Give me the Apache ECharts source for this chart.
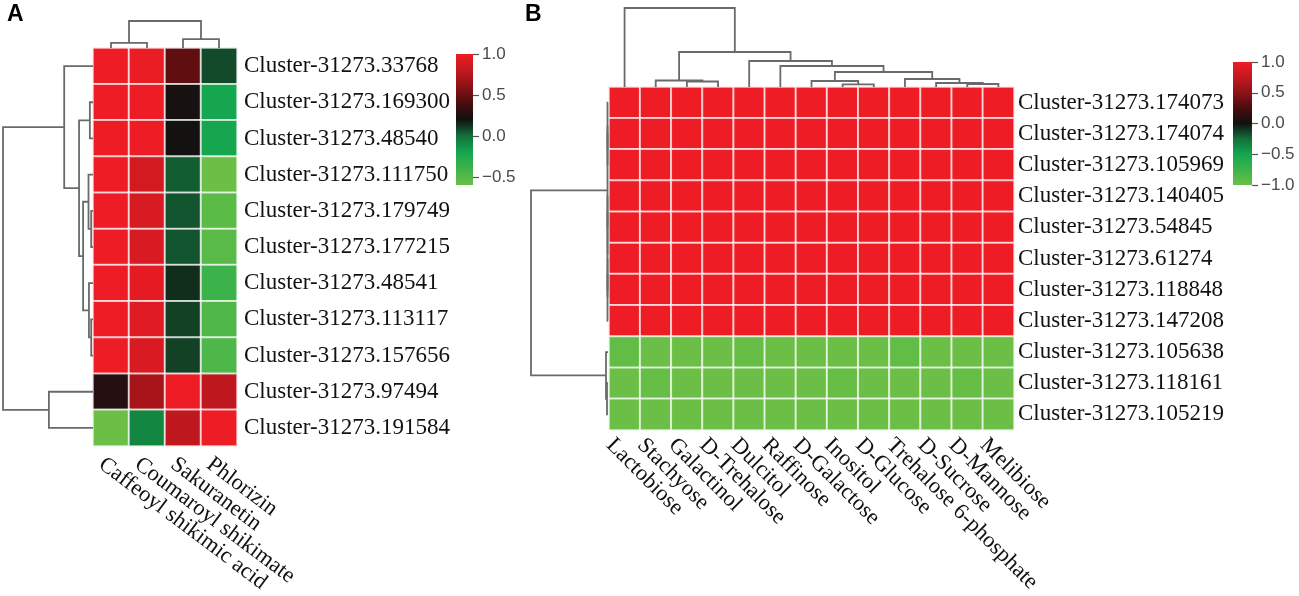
<!DOCTYPE html>
<html>
<head>
<meta charset="utf-8">
<style>
  html, body { margin: 0; padding: 0; background: #fff; }
  #main { width: 1299px; height: 596px; }
</style>
<script src="https://cdn.jsdelivr.net/npm/echarts@6/dist/echarts.min.js"></script>
</head>
<body>
<div id="main"></div>
<script>
// ---- panel A : phenylpropanoid metabolites ----
var rowsA = ["Cluster-31273.33768", "Cluster-31273.169300", "Cluster-31273.48540",
  "Cluster-31273.111750", "Cluster-31273.179749", "Cluster-31273.177215",
  "Cluster-31273.48541", "Cluster-31273.113117", "Cluster-31273.157656",
  "Cluster-31273.97494", "Cluster-31273.191584"];
var colsA = ["Caffeoyl shikimic acid", "Coumaroyl shikimate", "Sakuranetin", "Phlorizin"];
// one row per gene, columns in colsA order
var valuesA = [
  [1.00, 0.98, 0.47, 0.08],
  [1.00, 1.00, 0.22, -0.20],
  [1.00, 1.00, 0.21, -0.20],
  [1.00, 0.88, 0.04, -0.60],
  [1.00, 0.90, 0.06, -0.53],
  [1.00, 0.90, 0.06, -0.52],
  [1.00, 0.96, 0.14, -0.40],
  [1.00, 0.93, 0.10, -0.48],
  [1.00, 0.90, 0.10, -0.47],
  [0.27, 0.70, 1.00, 0.79],
  [-0.60, -0.08, 0.79, 1.00]
];
// linkage: [childA, childB, height]; ids >= n are earlier merges
var rowLinkA = [[1, 2, 0.035], [4, 5, 0.02], [3, 12, 0.05], [7, 8, 0.02], [6, 14, 0.045],
  [13, 15, 0.11], [11, 16, 0.155], [0, 17, 0.32], [9, 10, 0.49], [18, 19, 1.0]];
var colLinkA = [[0, 1, 0.19], [2, 3, 0.33], [4, 5, 1.0]];
var rangeA = [-0.6, 1.0];
var ticksA = [1.0, 0.5, 0.0, -0.5];

// ---- panel B : sugars ----
var rowsB = ["Cluster-31273.174073", "Cluster-31273.174074", "Cluster-31273.105969",
  "Cluster-31273.140405", "Cluster-31273.54845", "Cluster-31273.61274",
  "Cluster-31273.118848", "Cluster-31273.147208", "Cluster-31273.105638",
  "Cluster-31273.118161", "Cluster-31273.105219"];
var colsB = ["Lactobiose", "Stachyose", "Galactinol", "D-Trehalose", "Dulcitol", "Raffinose",
  "D-Galactose", "Inositol", "D-Glucose", "Trehalose 6-phosphate", "D-Sucrose",
  "D-Mannose", "Melibiose"];
var valuesB = [
  [1, 1, 1, 1, 1, 1, 1, 1, 1, 1, 1, 1, 1],
  [1, 1, 1, 1, 1, 1, 1, 1, 1, 1, 1, 1, 1],
  [1, 1, 1, 1, 1, 1, 1, 1, 1, 1, 1, 1, 1],
  [1, 1, 1, 1, 1, 1, 1, 1, 1, 1, 1, 1, 1],
  [1, 1, 1, 1, 1, 1, 1, 1, 1, 1, 1, 1, 1],
  [1, 1, 1, 1, 1, 1, 1, 1, 1, 1, 1, 1, 1],
  [1, 1, 1, 1, 1, 1, 1, 1, 1, 1, 1, 1, 1],
  [1, 1, 1, 1, 1, 1, 1, 1, 1, 1, 1, 1, 1],
  [-0.95, -1, -1, -1, -0.97, -1, -1, -1, -1, -0.95, -1, -1, -1],
  [-1, -0.97, -1, -1, -1, -1, -1, -0.97, -1, -1, -1, -0.97, -1],
  [-1, -1, -1, -1, -1, -1, -1, -1, -1, -1, -1, -1, -1]
];
var rowLinkB = [[1, 2, 0.5], [0, 11, 0.5], [3, 4, 0.5], [5, 6, 0.5], [14, 7, 0.5],
  [13, 15, 0.5], [12, 16, 0.5], [9, 10, 1], [8, 18, 2], [17, 19, 77]];
var colLinkB = [[2, 3, 5.5], [1, 13, 6.5], [7, 8, 2.7], [6, 15, 6], [11, 12, 3],
  [10, 17, 4], [9, 18, 8], [16, 19, 15], [5, 20, 21], [4, 21, 26], [14, 22, 35], [0, 23, 79]];
var rangeB = [-1.0, 1.0];
var ticksB = [1.0, 0.5, 0.0, -0.5, -1.0];

// green -> black -> red
var palette = ["#6cbf46", "#3cb34a", "#15a64f", "#12703a", "#111111",
  "#4a0c0e", "#8c1217", "#c2181f", "#ee1c25"];

var SERIF = "'Liberation Serif', 'Times New Roman', serif";
var SANS = "'Liberation Sans', Arial, sans-serif";
var LINK = "#6a6a6a";

function cells(vals) {
  var out = [];
  vals.forEach(function (row, r) {
    row.forEach(function (v, c) { out.push([c, r, v]); });
  });
  return out;
}

// dendrogram elbows from a linkage table, leaves at i + 0.5
function dendro(link, n, sideways) {
  var pos = [], hgt = [], out = [];
  for (var i = 0; i < n; i++) { pos[i] = i + 0.5; hgt[i] = 0; }
  link.forEach(function (m, k) {
    var a = m[0], b = m[1], h = m[2], id = n + k;
    pos[id] = (pos[a] + pos[b]) / 2;
    hgt[id] = h;
    var pts = [[pos[a], hgt[a]], [pos[a], h], [pos[b], h], [pos[b], hgt[b]]];
    if (sideways) pts = pts.map(function (p) { return [p[1], p[0]]; });
    out.push({ coords: pts });
  });
  return out;
}
function topHeight(link) {
  return Math.max.apply(null, link.map(function (m) { return m[2]; }));
}

function hidden(extra) {
  var a = { show: false };
  for (var k in extra) a[k] = extra[k];
  return a;
}

function gradient() {
  var stops = palette.slice().reverse().map(function (c, i, arr) {
    return { offset: i / (arr.length - 1), color: c };
  });
  return new echarts.graphic.LinearGradient(0, 0, 0, 1, stops);
}
function barItem(params, api) {
  var top = api.coord([api.value(0), api.value(2)]);
  var bot = api.coord([api.value(0), api.value(1)]);
  var w = api.size([1, 0])[0];
  return {
    type: "rect",
    shape: { x: top[0] - w / 2, y: top[1], width: w, height: bot[1] - top[1] },
    style: { fill: gradient() }
  };
}

function heatX(cols) {
  return { type: "category", data: cols, axisLine: { show: false },
    axisTick: { show: false }, axisLabel: { show: false }, splitLine: { show: false } };
}
function heatY(rows, margin) {
  return { type: "category", data: rows, inverse: true, position: "right",
    axisLine: { show: false }, axisTick: { show: false }, splitLine: { show: false },
    axisLabel: { fontFamily: SERIF, fontSize: 23, color: "#111", margin: margin } };
}
function labelX(cols, rot, margin) {
  return { type: "category", data: cols, position: "bottom",
    axisLine: { show: false }, axisTick: { show: false }, splitLine: { show: false },
    axisLabel: { interval: 0, rotate: rot, margin: margin, fontFamily: SERIF,
      fontSize: 22.5, color: "#111" } };
}
function barY(range, ticks) {
  var fmt = function (v) { return (v < 0 ? "\u2212" : "") + Math.abs(v).toFixed(1); };
  return { type: "value", min: range[0], max: range[1], position: "right",
    axisLine: { show: false }, splitLine: { show: false },
    axisTick: { show: true, length: 6, customValues: ticks,
      lineStyle: { color: "#555", width: 1.2 } },
    axisLabel: { customValues: ticks, formatter: fmt, margin: 9, color: "#4a4a4a",
      fontFamily: SANS, fontSize: 17 } };
}

var grids = [
  { left: 93, top: 48, width: 144, height: 398 },   // 0 A heatmap
  { left: 83, top: 48, width: 144, height: 398 },   // 1 A column labels
  { left: 3, top: 48, width: 90, height: 398 },     // 2 A row tree
  { left: 93, top: 21, width: 144, height: 27 },    // 3 A column tree
  { left: 456, top: 54, width: 17, height: 131 },   // 4 A colour bar
  { left: 609, top: 87, width: 405, height: 343 },  // 5 B heatmap
  { left: 594, top: 87, width: 405, height: 343 },  // 6 B column labels
  { left: 531, top: 87, width: 77, height: 343 },   // 7 B row tree
  { left: 609, top: 8, width: 405, height: 79 },    // 8 B column tree
  { left: 1233, top: 62, width: 19, height: 123 }   // 9 B colour bar
];

var xAxes = [
  heatX(colsA),
  labelX(colsA, -37, 17),
  hidden({ type: "value", min: 0, max: topHeight(rowLinkA), inverse: true }),
  hidden({ type: "value", min: 0, max: colsA.length }),
  hidden({ type: "category", data: ["bar"] }),
  heatX(colsB),
  labelX(colsB, -45, 13),
  hidden({ type: "value", min: 0, max: topHeight(rowLinkB), inverse: true }),
  hidden({ type: "value", min: 0, max: colsB.length }),
  hidden({ type: "category", data: ["bar"] })
];
var yAxes = [
  heatY(rowsA, 7),
  hidden({ type: "value", min: 0, max: 1 }),
  hidden({ type: "value", min: 0, max: rowsA.length, inverse: true }),
  hidden({ type: "value", min: 0, max: topHeight(colLinkA) }),
  barY(rangeA, ticksA),
  heatY(rowsB, 4),
  hidden({ type: "value", min: 0, max: 1 }),
  hidden({ type: "value", min: 0, max: rowsB.length, inverse: true }),
  hidden({ type: "value", min: 0, max: topHeight(colLinkB) }),
  barY(rangeB, ticksB)
];
xAxes.forEach(function (a, i) { a.gridIndex = i; });
yAxes.forEach(function (a, i) { a.gridIndex = i; });

function treeSeries(data, ax) {
  return { type: "lines", coordinateSystem: "cartesian2d", xAxisIndex: ax, yAxisIndex: ax,
    polyline: true, silent: true, data: data,
    lineStyle: { color: LINK, width: 1.8, opacity: 1 } };
}
var cellStyle = { borderColor: "rgba(255,255,255,0.72)", borderWidth: 2 };

var chart = echarts.init(document.getElementById("main"), null, { renderer: "canvas" });
chart.setOption({
  animation: false,
  backgroundColor: "#fff",
  title: [
    { text: "A", left: 7, top: 3, padding: 0,
      textStyle: { fontFamily: SANS, fontWeight: "bold", fontSize: 23, color: "#000" } },
    { text: "B", left: 525, top: 3, padding: 0,
      textStyle: { fontFamily: SANS, fontWeight: "bold", fontSize: 23, color: "#000" } }
  ],
  grid: grids,
  xAxis: xAxes,
  yAxis: yAxes,
  visualMap: [
    { show: false, seriesIndex: 0, min: rangeA[0], max: rangeA[1], inRange: { color: palette } },
    { show: false, seriesIndex: 4, min: rangeB[0], max: rangeB[1], inRange: { color: palette } }
  ],
  series: [
    { type: "heatmap", xAxisIndex: 0, yAxisIndex: 0, data: cells(valuesA), itemStyle: cellStyle },
    treeSeries(dendro(rowLinkA, rowsA.length, true), 2),
    treeSeries(dendro(colLinkA, colsA.length, false), 3),
    { type: "custom", xAxisIndex: 4, yAxisIndex: 4, silent: true,
      data: [[0, rangeA[0], rangeA[1]]], renderItem: barItem },
    { type: "heatmap", xAxisIndex: 5, yAxisIndex: 5, data: cells(valuesB), itemStyle: cellStyle },
    treeSeries(dendro(rowLinkB, rowsB.length, true), 7),
    treeSeries(dendro(colLinkB, colsB.length, false), 8),
    { type: "custom", xAxisIndex: 9, yAxisIndex: 9, silent: true,
      data: [[0, rangeB[0], rangeB[1]]], renderItem: barItem }
  ]
});
</script>
</body>
</html>
